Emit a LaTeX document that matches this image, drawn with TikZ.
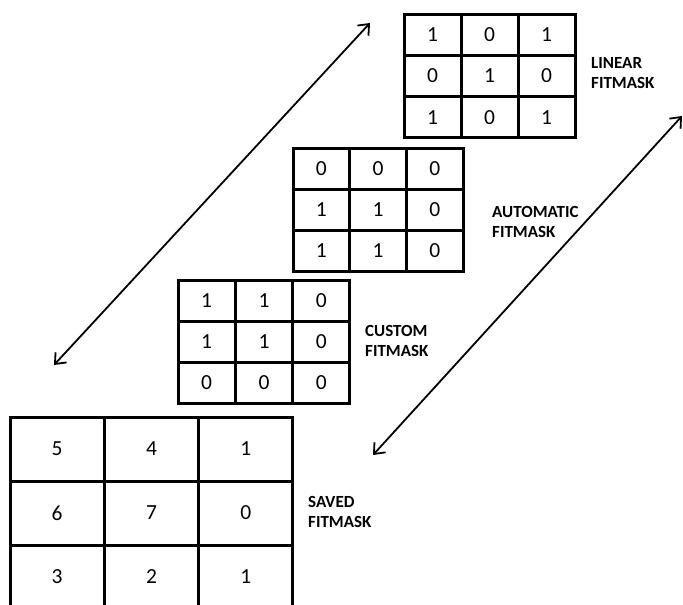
\documentclass[tikz,border=0pt]{standalone}
\usepackage{fontspec}
\setmainfont{Carlito}
\usetikzlibrary{arrows.meta}
\newcommand\fitgrid[6]{%
  \foreach \v [count=\i from 0] in {#6} {
    \pgfmathtruncatemacro\r{\i/3}
    \pgfmathtruncatemacro\c{mod(\i,3)}
    \node[cell, minimum width=#4pt, minimum height=#5pt] (#1-\r-\c)
      at ({#2+\c*#4+#4/2}, {#3+\r*#5+#5/2}) {\v};
  }}
\begin{document}
\begin{tikzpicture}[x=1pt,y=-1pt,
  cell/.style={draw, line width=3pt, inner sep=0pt, line join=miter,
    font=\fontsize{21.5}{21.5}\selectfont},
  lbl/.style={anchor=west, align=left, inner sep=0pt,
    font=\fontsize{17}{20}\selectfont\bfseries},
  dbl/.style={line width=1.8pt,
    {Straight Barb[length=9pt,width=15pt]}-{Straight Barb[length=9pt,width=15pt]}}]
\clip (0,0) rectangle (683,605);
\fill[white] (0,0) rectangle (683,605);
% grids
\fitgrid{lin}{404}{14}{57}{41.3}{1,0,1,0,1,0,1,0,1}
\fitgrid{aut}{293}{148}{56.7}{41}{0,0,0,1,1,0,1,1,0}
\fitgrid{cus}{178}{280}{57.3}{41}{1,1,0,1,1,0,0,0,0}
\fitgrid{sav}{10}{417}{94.3}{64}{5,4,1,6,7,0,3,2,1}
% labels
\node[lbl] (llin) at (591,73) {LINEAR\\FITMASK};
\node[lbl] (laut) at (492,222) {AUTOMATIC\\FITMASK};
\node[lbl] (lcus) at (365,341) {CUSTOM\\FITMASK};
\node[lbl] (lsav) at (308,512) {SAVED\\FITMASK};
% arrows
\coordinate (a1s) at (54,365);
\coordinate (a1e) at (370,23);
\coordinate (a2s) at (373,455);
\coordinate (a2e) at (682,116);
\draw[dbl] (a1s) -- (a1e);
\draw[dbl] (a2s) -- (a2e);
\end{tikzpicture}
\end{document}
